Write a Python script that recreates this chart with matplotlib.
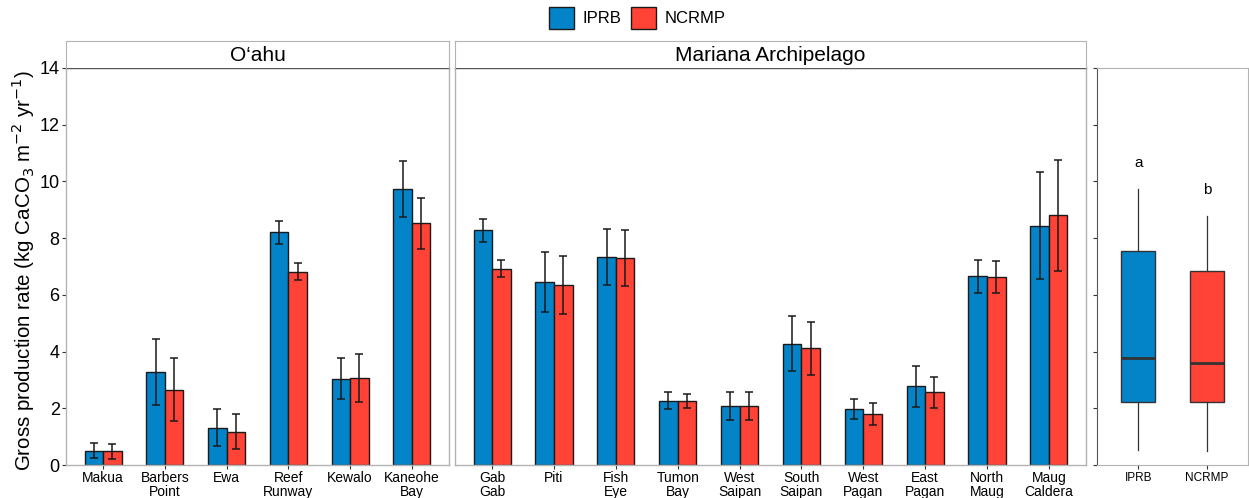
import matplotlib
matplotlib.use("Agg")
import matplotlib.pyplot as plt
from matplotlib.patches import Patch
import numpy as np

plt.rcParams['font.family'] = ['Liberation Sans', 'DejaVu Sans']

# ---- data ----
oahu_sites = ["Makua", "Barbers\nPoint", "Ewa", "Reef\nRunway", "Kewalo", "Kaneohe\nBay"]
oahu_iprb = [0.51, 3.27, 1.32, 8.20, 3.04, 9.73]
oahu_iprb_err = [0.26, 1.16, 0.66, 0.41, 0.72, 1.00]
oahu_ncrmp = [0.48, 2.66, 1.18, 6.82, 3.06, 8.52]
oahu_ncrmp_err = [0.26, 1.10, 0.61, 0.31, 0.85, 0.90]

mar_sites = ["Gab\nGab", "Piti", "Fish\nEye", "Tumon\nBay", "West\nSaipan", "South\nSaipan",
             "West\nPagan", "East\nPagan", "North\nMaug", "Maug\nCaldera"]
mar_iprb = [8.28, 6.45, 7.33, 2.27, 2.07, 4.28, 1.98, 2.78, 6.66, 8.44]
mar_iprb_err = [0.40, 1.07, 0.98, 0.29, 0.49, 0.98, 0.36, 0.72, 0.58, 1.88]
mar_ncrmp = [6.92, 6.35, 7.29, 2.26, 2.07, 4.12, 1.81, 2.56, 6.62, 8.80]
mar_ncrmp_err = [0.30, 1.03, 0.98, 0.24, 0.49, 0.94, 0.39, 0.56, 0.56, 1.95]

box_groups = ["IPRB", "NCRMP"]
box_whislo = [0.53, 0.49]
box_q1 = [2.22, 2.21]
box_med = [3.78, 3.60]
box_q3 = [7.55, 6.85]
box_whishi = [9.73, 8.79]
box_letters = ["a", "b"]
box_letter_y = [10.65, 9.70]

yticks = [0, 2, 4, 6, 8, 10, 12, 14]
panel_titles = ["O\u2018ahu", "Mariana Archipelago"]

BLUE = "#0384C9"
RED = "#FF4336"
FRAME = "#b3b3b3"

W, H = 1249, 498
fig = plt.figure(figsize=(W / 100, H / 100), dpi=100)


def px_axes(x0, x1, y0, y1):
    return fig.add_axes([x0 / W, 1 - y1 / H, (x1 - x0) / W, (y1 - y0) / H])


def style_frame(ax):
    for s in ax.spines.values():
        s.set_color(FRAME)
        s.set_linewidth(1.0)
    ax.spines['top'].set_color("#555555")


def bar_panel(ax, sites, iprb, iprb_err, ncrmp, ncrmp_err):
    x = np.arange(1, len(sites) + 1)
    w = 0.3
    ax.bar(x - w / 2, iprb, width=w, color=BLUE, edgecolor="#1a1a1a", linewidth=1.0, zorder=2)
    ax.bar(x + w / 2, ncrmp, width=w, color=RED, edgecolor="#1a1a1a", linewidth=1.0, zorder=2)
    ax.errorbar(x - w / 2, iprb, yerr=iprb_err, fmt="none", ecolor="#1a1a1a",
                elinewidth=1.1, capsize=3, capthick=1.1, zorder=3)
    ax.errorbar(x + w / 2, ncrmp, yerr=ncrmp_err, fmt="none", ecolor="#1a1a1a",
                elinewidth=1.1, capsize=3, capthick=1.1, zorder=3)
    ax.set_xlim(0.4, len(sites) + 0.6)
    ax.set_ylim(0, 14)
    ax.set_xticks(x)
    ax.set_xticklabels(sites, fontsize=10, linespacing=0.95)
    ax.tick_params(axis='x', length=3, color="#333333", pad=1.5)
    style_frame(ax)


def strip(x0, x1, title):
    s = px_axes(x0, x1, 41, 68)
    s.set_xticks([])
    s.set_yticks([])
    for sp in s.spines.values():
        sp.set_color(FRAME)
    s.spines['bottom'].set_visible(False)
    s.text(0.5, 0.47, title, transform=s.transAxes, ha="center", va="center", fontsize=15)


ax1 = px_axes(66, 449, 68, 465)
bar_panel(ax1, oahu_sites, oahu_iprb, oahu_iprb_err, oahu_ncrmp, oahu_ncrmp_err)
ax1.set_yticks(yticks)
ax1.set_yticklabels([str(t) for t in yticks], fontsize=13)
ax1.tick_params(axis='y', length=3, color="#333333", pad=1.5)
ax1.set_ylabel("Gross production rate (kg CaCO$_3$ m$^{-2}$ yr$^{-1}$)", fontsize=14.8)
ax1.yaxis.set_label_coords(-0.076, 0.49)
strip(66, 449, panel_titles[0])

ax2 = px_axes(455, 1086, 68, 465)
bar_panel(ax2, mar_sites, mar_iprb, mar_iprb_err, mar_ncrmp, mar_ncrmp_err)
ax2.set_yticks([])
strip(455, 1086, panel_titles[1])

ax3 = px_axes(1097, 1248, 68, 465)
stats = []
for i, g in enumerate(box_groups):
    stats.append(dict(label=g, whislo=box_whislo[i], q1=box_q1[i], med=box_med[i],
                      q3=box_q3[i], whishi=box_whishi[i], fliers=[]))
bp = ax3.bxp(stats, positions=[1, 2], widths=0.5, patch_artist=True, showcaps=False,
             boxprops=dict(linewidth=1.0, edgecolor="#333333"),
             medianprops=dict(color="#333333", linewidth=2.0),
             whiskerprops=dict(color="#333333", linewidth=0.9))
for patch, c in zip(bp['boxes'], [BLUE, RED]):
    patch.set_facecolor(c)
for i, (lt, ly) in enumerate(zip(box_letters, box_letter_y)):
    ax3.text(i + 1, ly, lt, ha="center", va="center", fontsize=11)
ax3.set_xlim(0.4, 2.6)
ax3.set_ylim(0, 14)
ax3.set_yticks(yticks)
ax3.set_yticklabels([])
ax3.tick_params(axis='y', length=3, color="#333333")
ax3.set_xticks([1, 2])
ax3.set_xticklabels(box_groups, fontsize=8.5)
ax3.tick_params(axis='x', length=3, color="#333333", pad=2)
for s in ax3.spines.values():
    s.set_color(FRAME)
ax3.spines['left'].set_color("#555555")

handles = [Patch(facecolor=BLUE, edgecolor="#1a1a1a", label="IPRB"),
           Patch(facecolor=RED, edgecolor="#1a1a1a", label="NCRMP")]
fig.legend(handles=handles, loc="center", bbox_to_anchor=(637 / W, 1 - 18 / H), ncol=2,
           frameon=False, fontsize=12, handlelength=1.5, handleheight=1.6,
           columnspacing=0.6, handletextpad=0.5)

fig.savefig("out.png", dpi=100)
